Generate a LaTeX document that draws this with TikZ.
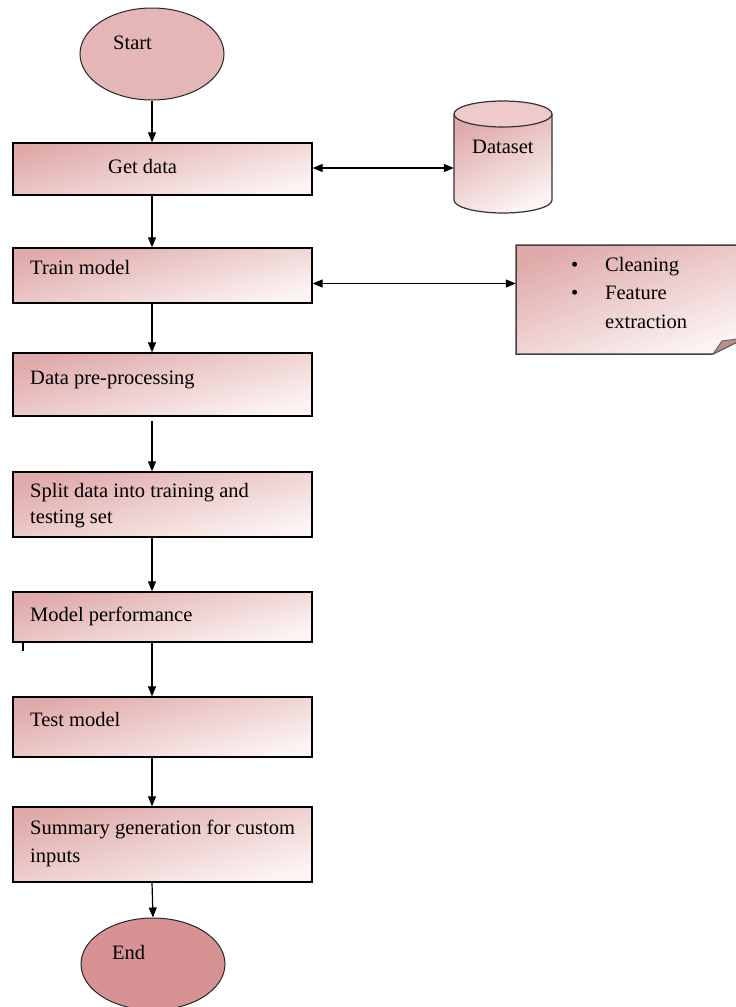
\documentclass[tikz,border=0pt]{standalone}
\usepackage{fontspec}
\setmainfont{Liberation Serif}
\usetikzlibrary{arrows.meta,shapes.geometric}
\definecolor{pkA}{HTML}{E0AAAA}
\definecolor{pkB}{HTML}{FCF4F4}
\definecolor{startfill}{HTML}{E4B6B6}
\definecolor{endfill}{HTML}{D79393}
\definecolor{foldfill}{HTML}{BE8C8C}
\definecolor{cyltop}{HTML}{EECACA}
\begin{document}
\begin{tikzpicture}[x=1pt,y=-1pt,
  box/.style={draw=black, line width=1.3pt, top color=pkA, bottom color=pkB, shading angle=15,
              minimum width=299pt, inner sep=0pt},
  lbl/.style={anchor=base west, font=\fontsize{20.5}{26}\selectfont, inner sep=0pt, align=left, text=black},
  term/.style={ellipse, draw=black!85, line width=1pt, minimum width=144pt, minimum height=92pt, inner sep=0pt},
  arr/.style={-{Triangle[length=10pt,width=8pt]}, line width=1.2pt},
  darr/.style={{Triangle[length=10pt,width=8pt]}-{Triangle[length=10pt,width=8pt]}, line width=1.2pt}]
\useasboundingbox (0,0) rectangle (736,1007);

% terminals
\node[term, fill=startfill] (st) at (152,54) {};
\node[lbl] (stt) at (113,49) {Start};
\node[term, fill=endfill] (en) at (153,964) {};
\node[lbl] (ent) at (112,959) {End};

% process boxes
\node[box, minimum height=52pt] (gd) at (162.5,169) {};
\node[lbl] (gdt) at (108,173) {Get data};
\node[box, minimum height=55pt] (tm) at (162.5,275.5) {};
\node[lbl] (tmt) at (30,274) {Train model};
\node[box, minimum height=63pt] (dp) at (162.5,384.5) {};
\node[lbl] (dpt) at (30,384) {Data pre-processing};
\node[box, minimum height=65pt] (sp) at (162.5,504.5) {};
\node[lbl] (spt) at (30,523) {Split data into training and\\testing set};
\node[box, minimum height=50pt] (mp) at (162.5,617) {};
\node[lbl] (mpt) at (30,621) {Model performance};
\node[box, minimum height=60pt] (te) at (162.5,727) {};
\node[lbl] (tet) at (30,726) {Test model};
\node[box, minimum height=75pt] (su) at (162.5,844.5) {};
\node[lbl, font=\fontsize{20.5}{28}\selectfont] (sut) at (30,862) {Summary generation for custom\\inputs};

% small mark
\draw[line width=2pt] (23,643) -- (23,651);

% dataset cylinder
\node[minimum width=98pt, minimum height=112pt, inner sep=0pt] (ds) at (503,157) {};
\path[top color=pkA, bottom color=pkB, shading angle=25]
  (454,114) -- (454,200) arc[start angle=180, end angle=0, x radius=49, y radius=13] -- (552,114) -- cycle;
\draw[line width=1.2pt, draw=black!80]
  (454,114) -- (454,200) arc[start angle=180, end angle=0, x radius=49, y radius=13] -- (552,114);
\draw[line width=1.2pt, draw=black!80, fill=cyltop] (503,114) ellipse[x radius=49, y radius=13];
\node[lbl] (dst) at (472,153) {Dataset};

% note
\node[minimum width=229pt, minimum height=109pt, inner sep=0pt] (nt) at (630.5,299.5) {};
\path[top color=pkA, bottom color=pkB, shading angle=20, draw=black!75, line width=1.5pt]
  (516,245) -- (745,245) -- (745,338) -- (713,354) -- (516,354) -- cycle;
\filldraw[fill=foldfill, draw=black!60, line width=1pt] (713,354) -- (722,341) -- (745,338) -- cycle;
\node[lbl, font=\fontsize{20.5}{28.5}\selectfont] (ntt) at (605,328)
  {\llap{\textbullet\hspace{27pt}}Cleaning\\\llap{\textbullet\hspace{27pt}}Feature\\extraction};

% connectors
\draw[arr] (st.south) -- (gd.north -| st.south);
\draw[arr] (gd.south -| st.south) -- (tm.north -| st.south);
\draw[arr] (tm.south -| st.south) -- (dp.north -| st.south);
\draw[arr, shorten <=4pt] (dp.south -| st.south) -- (sp.north -| st.south);
\draw[arr] (sp.south -| st.south) -- (mp.north -| st.south);
\draw[arr] (mp.south -| st.south) -- (te.north -| st.south);
\draw[arr] (te.south -| st.south) -- (su.north -| st.south);
\draw[arr] (su.south -| st.south) -- (en.north);
\draw[darr] ([yshift=1pt]gd.east) -- ([yshift=1pt]gd.east -| ds.west);
\draw[darr] ([yshift=-8pt]tm.east) -- ([yshift=-8pt]tm.east -| nt.west);
\end{tikzpicture}
\end{document}
